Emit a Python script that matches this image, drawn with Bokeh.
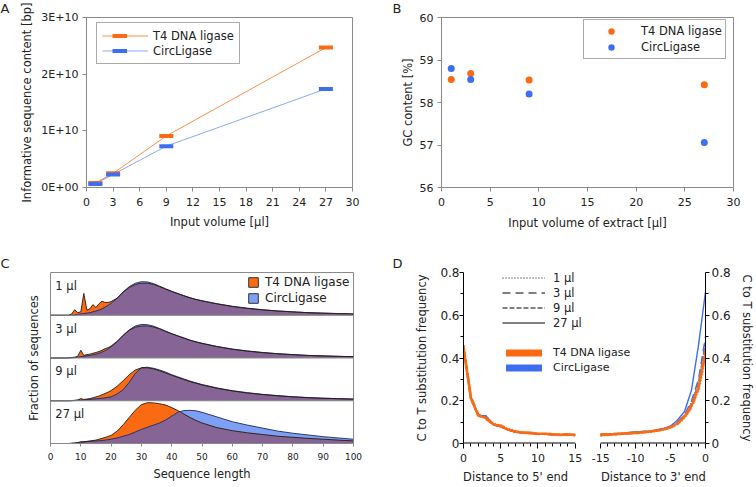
import numpy as np
from bokeh.plotting import figure
from bokeh.layouts import row, column
from bokeh.models import (Range1d, FixedTicker, LinearAxis, Legend, LegendItem, Span)
from bokeh.core.properties import value
from bokeh.embed import file_html
from bokeh.resources import INLINE

FONT = "DejaVu Sans"
ORANGE = "#fa6a12"
BLUE = "#3d6ef2"
LIGHTBLUE = "#7da0f5"
PURPLE = "#876496"
GRAY = "#8a8a8a"
TXT = "#222222"
NAN = float("nan")

# ---------------- data ----------------
# Panel A: informative sequence content
volumes = [1, 3, 9, 27]
info_t4 = [0.08e10, 0.25e10, 0.91e10, 2.47e10]
info_circ = [0.063e10, 0.23e10, 0.73e10, 1.74e10]

# Panel B: GC content
gc_t4 = [58.54, 58.68, 58.53, 58.42]
gc_circ = [58.80, 58.54, 58.20, 57.06]

# Panel C: sequence length distributions (relative height)
len_x = [0, 5, 6, 7, 8, 9, 10, 11, 12, 13, 14, 15, 16, 17, 18, 19, 20,
         22, 24, 26, 28, 30, 32, 34, 36, 38, 40, 42, 44, 46, 48, 50,
         55, 60, 65, 70, 75, 80, 85, 90, 95, 100]
vol_labels = ["1 µl", "3 µl", "9 µl", "27 µl"]
len_t4_1 = [0, 0, 0, 0.03, 0.13, 0.06, 0.08, 0.51, 0.12, 0.15, 0.25, 0.18, 0.27, 0.33, 0.30, 0.30, 0.32,
            0.40, 0.54, 0.65, 0.72, 0.75, 0.75, 0.72, 0.67, 0.61, 0.555, 0.505, 0.455, 0.41, 0.37, 0.335,
            0.265, 0.205, 0.16, 0.125, 0.10, 0.078, 0.06, 0.048, 0.038, 0.03]
len_circ_1 = [0, 0, 0, 0, 0.01, 0.02, 0.03, 0.04, 0.05, 0.06, 0.08, 0.10, 0.12, 0.15, 0.19, 0.23, 0.28,
              0.40, 0.55, 0.67, 0.75, 0.785, 0.78, 0.74, 0.68, 0.62, 0.56, 0.51, 0.46, 0.41, 0.37, 0.34,
              0.27, 0.21, 0.165, 0.13, 0.10, 0.08, 0.06, 0.05, 0.04, 0.03]
len_t4_3 = [0, 0, 0.005, 0.01, 0.02, 0.04, 0.18, 0.06, 0.08, 0.09, 0.11, 0.13, 0.15, 0.18, 0.22, 0.24, 0.28,
            0.39, 0.53, 0.65, 0.72, 0.75, 0.75, 0.725, 0.68, 0.62, 0.565, 0.515, 0.465, 0.415, 0.375, 0.34,
            0.265, 0.205, 0.16, 0.125, 0.10, 0.078, 0.06, 0.048, 0.038, 0.03]
len_circ_3 = [0, 0, 0, 0.005, 0.01, 0.02, 0.03, 0.04, 0.05, 0.06, 0.075, 0.09, 0.11, 0.14, 0.17, 0.21, 0.26,
              0.38, 0.53, 0.66, 0.75, 0.785, 0.78, 0.745, 0.69, 0.63, 0.57, 0.52, 0.47, 0.42, 0.38, 0.345,
              0.27, 0.21, 0.165, 0.13, 0.10, 0.08, 0.06, 0.05, 0.04, 0.03]
len_t4_9 = [0, 0, 0, 0.005, 0.01, 0.02, 0.05, 0.03, 0.04, 0.05, 0.07, 0.09, 0.11, 0.14, 0.17, 0.20, 0.24,
            0.34, 0.47, 0.61, 0.72, 0.77, 0.77, 0.745, 0.70, 0.65, 0.595, 0.545, 0.495, 0.45, 0.41, 0.37,
            0.29, 0.23, 0.18, 0.145, 0.115, 0.09, 0.072, 0.058, 0.048, 0.038]
len_circ_9 = [0, 0, 0, 0, 0.005, 0.01, 0.015, 0.02, 0.025, 0.03, 0.04, 0.045, 0.05, 0.06, 0.07, 0.08, 0.09,
              0.16, 0.26, 0.43, 0.64, 0.77, 0.785, 0.76, 0.72, 0.67, 0.61, 0.56, 0.51, 0.46, 0.42, 0.38,
              0.30, 0.235, 0.19, 0.15, 0.12, 0.095, 0.075, 0.06, 0.05, 0.04]
len_t4_27 = [0, 0, 0, 0.005, 0.01, 0.02, 0.04, 0.04, 0.05, 0.06, 0.07, 0.08, 0.10, 0.12, 0.14, 0.165, 0.19,
             0.29, 0.44, 0.61, 0.78, 0.91, 0.955, 0.95, 0.93, 0.90, 0.84, 0.77, 0.69, 0.61, 0.54, 0.48,
             0.37, 0.30, 0.25, 0.21, 0.17, 0.145, 0.12, 0.10, 0.08, 0.06]
len_circ_27 = [0, 0, 0, 0.005, 0.01, 0.02, 0.03, 0.04, 0.045, 0.05, 0.055, 0.06, 0.065, 0.07, 0.08, 0.09, 0.10,
               0.13, 0.17, 0.21, 0.27, 0.33, 0.38, 0.43, 0.48, 0.55, 0.64, 0.73, 0.77, 0.775, 0.765, 0.73,
               0.62, 0.51, 0.43, 0.36, 0.29, 0.24, 0.20, 0.16, 0.13, 0.10]

# Panel D: C to T substitution frequencies
pos5 = list(range(0, 16))
pos3 = list(range(-15, 1))
ct5_t4_1 = [0.44, 0.21, 0.13, 0.12, 0.095, 0.08, 0.068, 0.058, 0.052, 0.05, 0.046, 0.044, 0.043, 0.041, 0.042, 0.04]
ct5_t4_3 = [0.45, 0.22, 0.135, 0.115, 0.09, 0.085, 0.066, 0.056, 0.05, 0.049, 0.045, 0.045, 0.042, 0.04, 0.043, 0.039]
ct5_t4_9 = [0.46, 0.21, 0.13, 0.12, 0.09, 0.08, 0.065, 0.055, 0.051, 0.048, 0.044, 0.046, 0.043, 0.042, 0.04, 0.041]
ct5_t4_27 = [0.45, 0.21, 0.13, 0.12, 0.09, 0.08, 0.065, 0.055, 0.05, 0.05, 0.045, 0.045, 0.043, 0.04, 0.042, 0.04]
ct5_c_1 = [0.44, 0.22, 0.13, 0.13, 0.09, 0.08, 0.064, 0.054, 0.05, 0.048, 0.043, 0.044, 0.041, 0.038, 0.044, 0.038]
ct5_c_3 = [0.45, 0.21, 0.135, 0.125, 0.085, 0.082, 0.066, 0.056, 0.049, 0.05, 0.044, 0.043, 0.042, 0.04, 0.041, 0.037]
ct5_c_9 = [0.46, 0.21, 0.13, 0.128, 0.088, 0.078, 0.063, 0.053, 0.05, 0.047, 0.045, 0.044, 0.043, 0.041, 0.043, 0.038]
ct5_c_27 = [0.45, 0.215, 0.13, 0.13, 0.09, 0.08, 0.064, 0.054, 0.049, 0.048, 0.043, 0.044, 0.042, 0.039, 0.045, 0.038]
ct3_t4_1 = [0.035, 0.045, 0.042, 0.047, 0.045, 0.05, 0.05, 0.056, 0.058, 0.066, 0.074, 0.09, 0.12, 0.17, 0.25, 0.40]
ct3_t4_3 = [0.04, 0.043, 0.046, 0.044, 0.048, 0.052, 0.054, 0.055, 0.062, 0.064, 0.078, 0.092, 0.125, 0.17, 0.26, 0.43]
ct3_t4_9 = [0.045, 0.04, 0.044, 0.046, 0.05, 0.048, 0.053, 0.057, 0.06, 0.067, 0.076, 0.094, 0.13, 0.18, 0.27, 0.44]
ct3_t4_27 = [0.04, 0.042, 0.043, 0.045, 0.047, 0.05, 0.052, 0.055, 0.06, 0.065, 0.075, 0.095, 0.125, 0.175, 0.26, 0.42]
ct3_c_1 = [0.04, 0.046, 0.04, 0.045, 0.05, 0.052, 0.05, 0.058, 0.06, 0.068, 0.08, 0.10, 0.13, 0.19, 0.29, 0.46]
ct3_c_3 = [0.042, 0.04, 0.045, 0.048, 0.046, 0.055, 0.054, 0.056, 0.062, 0.07, 0.078, 0.10, 0.135, 0.20, 0.30, 0.50]
ct3_c_9 = [0.045, 0.042, 0.046, 0.044, 0.05, 0.053, 0.057, 0.055, 0.063, 0.069, 0.08, 0.098, 0.13, 0.19, 0.28, 0.48]
ct3_c_27 = [0.04, 0.044, 0.043, 0.047, 0.05, 0.054, 0.055, 0.058, 0.062, 0.07, 0.082, 0.11, 0.15, 0.25, 0.46, 0.71]
dash_styles = ["1 2", "8 5", "5 2", "solid"]


def style_axis(ax, tick_size="11px", col=GRAY):
    ax.major_label_text_font = FONT
    ax.major_label_text_font_size = tick_size
    ax.major_label_text_color = TXT
    ax.axis_label_text_font = FONT
    ax.axis_label_text_font_size = "11.5px"
    ax.axis_label_text_font_style = "normal"
    ax.axis_label_text_color = TXT
    ax.axis_line_color = col
    ax.major_tick_line_color = col
    ax.minor_tick_line_color = None
    ax.major_tick_out = 4
    ax.major_tick_in = 0
    ax.major_label_standoff = 6


def panel_letter(p, text, offset):
    p.title.text = text
    p.title.align = "left"
    p.title.vertical_align = "top"
    p.title.offset = offset
    p.title.standoff = 0
    p.title.text_font = FONT
    p.title.text_font_size = "13px"
    p.title.text_font_style = "normal"
    p.title.text_color = TXT


def dummy_line(p, **kw):
    return p.line([NAN], [NAN], **kw)


def make_legend(items, loc, **kw):
    base = dict(location=loc, margin=0, spacing=0, label_text_font=FONT,
                label_text_color=TXT, border_line_color=None, background_fill_alpha=0)
    base.update(kw)
    return Legend(items=items, **base)


# ---------------- Panel A ----------------
pA = figure(width=380, height=240, output_backend="svg", toolbar_location=None,
            x_range=Range1d(0, 30), y_range=Range1d(0, 3e10), title="A",
            min_border_left=86, min_border_right=28, min_border_top=15, min_border_bottom=53)
pA.grid.visible = False
pA.outline_line_color = GRAY
for ax in (pA.xaxis[0], pA.yaxis[0]):
    style_axis(ax)
pA.xaxis.ticker = FixedTicker(ticks=list(range(0, 31, 3)))
pA.yaxis.ticker = FixedTicker(ticks=[0, 10**10, 2 * 10**10, 3 * 10**10])
pA.yaxis.major_label_overrides = {0: "0E+00", 10**10: "1E+10", 2 * 10**10: "2E+10", 3 * 10**10: "3E+10"}
pA.yaxis.major_label_standoff = 4
pA.xaxis.axis_label = "Input volume [µl]"
pA.yaxis.axis_label = "Informative sequence content [bp]"
pA.xaxis.axis_label_standoff = 6
pA.yaxis.axis_label_standoff = 4

lA_t4 = pA.line(volumes, info_t4, line_color=ORANGE, line_width=1, line_alpha=0.75)
lA_c = pA.line(volumes, info_circ, line_color=BLUE, line_width=1, line_alpha=0.6)
pA.scatter(volumes, info_t4, marker="dash", size=14, line_width=4, line_color=ORANGE)
pA.scatter(volumes, info_circ, marker="dash", size=14, line_width=4, line_color=BLUE)
dA_t4 = dummy_line(pA, line_color=ORANGE, line_width=4)
dA_c = dummy_line(pA, line_color=BLUE, line_width=4)

legA = make_legend([LegendItem(label="T4 DNA ligase", renderers=[lA_t4]),
                    LegendItem(label="CircLigase", renderers=[lA_c])],
                   (10, 123), padding=5, glyph_width=46, glyph_height=15, label_height=15,
                   label_standoff=5, border_line_color="#555555", border_line_width=1,
                   background_fill_color="white", background_fill_alpha=1,
                   label_text_font_size="11.5px")
legA2 = make_legend([LegendItem(label=" ", renderers=[dA_t4]),
                     LegendItem(label=" ", renderers=[dA_c])],
                    (26, 129), padding=5, glyph_width=15, glyph_height=15, label_height=15,
                    label_standoff=5, border_line_width=1, label_text_font_size="11.5px",
                    label_text_alpha=0)
pA.add_layout(legA)
pA.add_layout(legA2)
panel_letter(pA, "A", -86)

# ---------------- Panel B ----------------
pB = figure(width=376, height=240, output_backend="svg", toolbar_location=None,
            x_range=Range1d(0, 30), y_range=Range1d(56, 60), title="B",
            min_border_left=61, min_border_right=23, min_border_top=15, min_border_bottom=51)
pB.grid.visible = False
pB.outline_line_color = GRAY
for ax in (pB.xaxis[0], pB.yaxis[0]):
    style_axis(ax)
pB.xaxis.ticker = FixedTicker(ticks=list(range(0, 31, 5)))
pB.yaxis.ticker = FixedTicker(ticks=[56, 57, 58, 59, 60])
pB.yaxis.major_label_standoff = 4
pB.xaxis.axis_label = "Input volume of extract [µl]"
pB.yaxis.axis_label = "GC content [%]"
pB.xaxis.axis_label_standoff = 7
pB.yaxis.axis_label_standoff = 2
sB_t4 = pB.scatter(volumes, gc_t4, marker="circle", size=7, fill_color=ORANGE, line_color=None)
sB_c = pB.scatter(volumes, gc_circ, marker="circle", size=7, fill_color=BLUE, line_color=None)
legB = make_legend([LegendItem(label="T4 DNA ligase", renderers=[sB_t4]),
                    LegendItem(label="CircLigase", renderers=[sB_c])],
                   (142, 128), padding=3, glyph_width=48, glyph_height=16, label_height=16,
                   label_standoff=6, border_line_color="#555555", border_line_width=1,
                   background_fill_color="white", background_fill_alpha=1,
                   label_text_font_size="11.5px")
pB.add_layout(legB)
panel_letter(pB, "B", -49)

# ---------------- Panel C ----------------
pC = figure(width=380, height=247, output_backend="svg", toolbar_location=None,
            x_range=Range1d(0, 100), y_range=Range1d(0, 4), title="C",
            min_border_left=50, min_border_right=27, min_border_top=28, min_border_bottom=40)
pC.grid.visible = False
pC.outline_line_color = GRAY
style_axis(pC.xaxis[0], tick_size="9px")
style_axis(pC.yaxis[0])
pC.xaxis.ticker = FixedTicker(ticks=list(range(0, 101, 10)))
pC.xaxis.major_tick_out = 3
pC.xaxis.major_label_standoff = 6
pC.xaxis.axis_label = "Sequence length"
pC.xaxis.axis_label_standoff = 4
pC.yaxis.ticker = FixedTicker(ticks=[])
pC.yaxis.axis_line_color = None
pC.yaxis.major_tick_line_color = None
pC.yaxis.axis_label = "Fraction of sequences"
pC.yaxis.axis_label_standoff = 10

xs = np.array(len_x, dtype=float)
series = [(len_t4_1, len_circ_1), (len_t4_3, len_circ_3),
          (len_t4_9, len_circ_9), (len_t4_27, len_circ_27)]
for i, (t4, ci) in enumerate(series):
    off = 3 - i
    t4a = np.array(t4) + off
    cia = np.array(ci) + off
    base = np.full(len(xs), float(off))
    pC.varea(x=xs, y1=base, y2=t4a, fill_color=ORANGE)
    pC.varea(x=xs, y1=base, y2=cia, fill_color=LIGHTBLUE)
    pC.varea(x=xs, y1=base, y2=np.minimum(t4a, cia), fill_color=PURPLE)
    pC.line(xs, cia, line_color="#1e2a5a", line_width=0.9)
    pC.line(xs, t4a, line_color="#2a1a10", line_width=0.9)
for k in (1, 2, 3):
    pC.add_layout(Span(location=k, dimension="width", line_color=GRAY, line_width=1))
pC.text(x=[1.6] * 4, y=[3.69, 2.69, 1.69, 0.69], text=vol_labels,
        text_font=value(FONT), text_font_size="11.5px", text_color=TXT,
        text_baseline="middle", text_align="left")
qC_t4 = pC.quad(left=[NAN], right=[NAN], top=[NAN], bottom=[NAN], fill_color=ORANGE, line_color="#333333")
qC_c = pC.quad(left=[NAN], right=[NAN], top=[NAN], bottom=[NAN], fill_color=LIGHTBLUE, line_color="#333333")
legC = make_legend([LegendItem(label="T4 DNA ligase", renderers=[qC_t4]),
                    LegendItem(label="CircLigase", renderers=[qC_c])],
                   (197, 138), padding=0, spacing=2, glyph_width=12, glyph_height=12,
                   label_height=14, label_standoff=6, label_text_font_size="12px")
pC.add_layout(legC)
panel_letter(pC, "C", -50)

# ---------------- Panel D ----------------
FW = 247
a_px = 114 / 15.0
b_px = 107 / 15.0
pD = figure(width=376, height=247, output_backend="svg", toolbar_location=None,
            x_range=Range1d(0, FW / a_px), y_range=Range1d(0, 0.8), title="D",
            min_border_left=83, min_border_right=46, min_border_top=32, min_border_bottom=44)
pD.extra_x_ranges = {"r": Range1d(-FW / b_px, 0)}
pD.grid.visible = False
pD.outline_line_color = None


def xdef(r):
    return (r + FW / b_px) * b_px / a_px


ylab = {0: "0", 0.2: "0.2", 0.4: "0.4", 0.6: "0.6", 0.8: "0.8"}
style_axis(pD.yaxis[0], tick_size="12px", col="black")
pD.yaxis.ticker = FixedTicker(ticks=[0, 0.2, 0.4, 0.6, 0.8], minor_ticks=[0.1, 0.3, 0.5, 0.7])
pD.yaxis.major_label_overrides = ylab
pD.yaxis.minor_tick_line_color = "black"
pD.yaxis.minor_tick_out = 3
pD.yaxis.minor_tick_in = 0
pD.yaxis.major_tick_out = 4
pD.yaxis.major_label_standoff = 0
pD.yaxis.axis_label = "C to T substitution frequency"
pD.yaxis.axis_label_standoff = 8

rax = LinearAxis(ticker=FixedTicker(ticks=[0, 0.2, 0.4, 0.6, 0.8], minor_ticks=[0.1, 0.3, 0.5, 0.7]),
                 axis_label="C to T substitution frequency")
style_axis(rax, tick_size="12px", col="black")
rax.major_label_overrides = ylab
rax.minor_tick_line_color = "black"
rax.minor_tick_out = 3
rax.minor_tick_in = 0
rax.major_tick_out = 4
rax.major_label_standoff = 2
rax.axis_label_standoff = 6
pD.add_layout(rax, "right")

xt_major = [0, 5, 10, 15] + [xdef(r) for r in (-15, -10, -5, 0)]
xt_minor = [v for v in range(1, 15)] + [xdef(r) for r in range(-14, 0)]
style_axis(pD.xaxis[0], tick_size="11px", col="black")
pD.xaxis.ticker = FixedTicker(ticks=xt_major, minor_ticks=xt_minor)
pD.xaxis.major_label_overrides = {0: "0", 5: "5", 10: "10", 15: "15",
                                  xdef(-15): "-15", xdef(-10): "-10",
                                  xdef(-5): "-5", xdef(0): "0"}
pD.xaxis.axis_line_color = None
pD.xaxis.minor_tick_line_color = "black"
pD.xaxis.minor_tick_out = 3
pD.xaxis.minor_tick_in = 0
pD.xaxis.major_tick_out = 5
pD.xaxis.major_label_standoff = 5
NB = "\u00a0"
pD.xaxis.axis_label = "Distance to 5' end" + NB * 9 + "Distance to 3' end"
pD.xaxis.axis_label_standoff = 5
pD.segment(x0=[0], y0=[0], x1=[15], y1=[0], line_color="black", line_width=2)
pD.segment(x0=[-15], y0=[0], x1=[0], y1=[0], line_color="black", line_width=2, x_range_name="r")

c5 = [ct5_c_1, ct5_c_3, ct5_c_9, ct5_c_27]
c3 = [ct3_c_1, ct3_c_3, ct3_c_9, ct3_c_27]
t5 = [ct5_t4_1, ct5_t4_3, ct5_t4_9, ct5_t4_27]
t3 = [ct3_t4_1, ct3_t4_3, ct3_t4_9, ct3_t4_27]
for i in range(4):
    pD.line(pos5, c5[i], line_color=BLUE, line_width=1.4, line_dash=dash_styles[i])
    pD.line(pos3, c3[i], line_color=BLUE, line_width=1.4, line_dash=dash_styles[i], x_range_name="r")
for i in range(4):
    pD.line(pos5, t5[i], line_color=ORANGE, line_width=2.4, line_dash=dash_styles[i], line_alpha=0.9)
    pD.line(pos3, t3[i], line_color=ORANGE, line_width=2.4, line_dash=dash_styles[i], line_alpha=0.9,
            x_range_name="r")

dummies = [dummy_line(pD, line_color="black", line_width=1, line_dash=d) for d in dash_styles]
legD = make_legend([LegendItem(label=l, renderers=[r]) for l, r in zip(vol_labels, dummies)],
                   (39, 113), padding=0, glyph_width=43, glyph_height=15, label_height=15,
                   label_standoff=8, label_text_font_size="11.5px")
dD_t4 = dummy_line(pD, line_color=ORANGE, line_width=7, line_cap="round")
dD_c = dummy_line(pD, line_color=BLUE, line_width=7, line_cap="round")
legD2 = make_legend([LegendItem(label="T4 DNA ligase", renderers=[dD_t4]),
                     LegendItem(label="CircLigase", renderers=[dD_c])],
                    (43, 68), padding=0, glyph_width=36, glyph_height=15, label_height=15,
                    label_standoff=11, label_text_font_size="11px")
pD.add_layout(legD)
pD.add_layout(legD2)
panel_letter(pD, "D", -71)

layout = column(row(pA, pB), row(pC, pD))
open("out.html", "w").write(file_html(layout, INLINE))
